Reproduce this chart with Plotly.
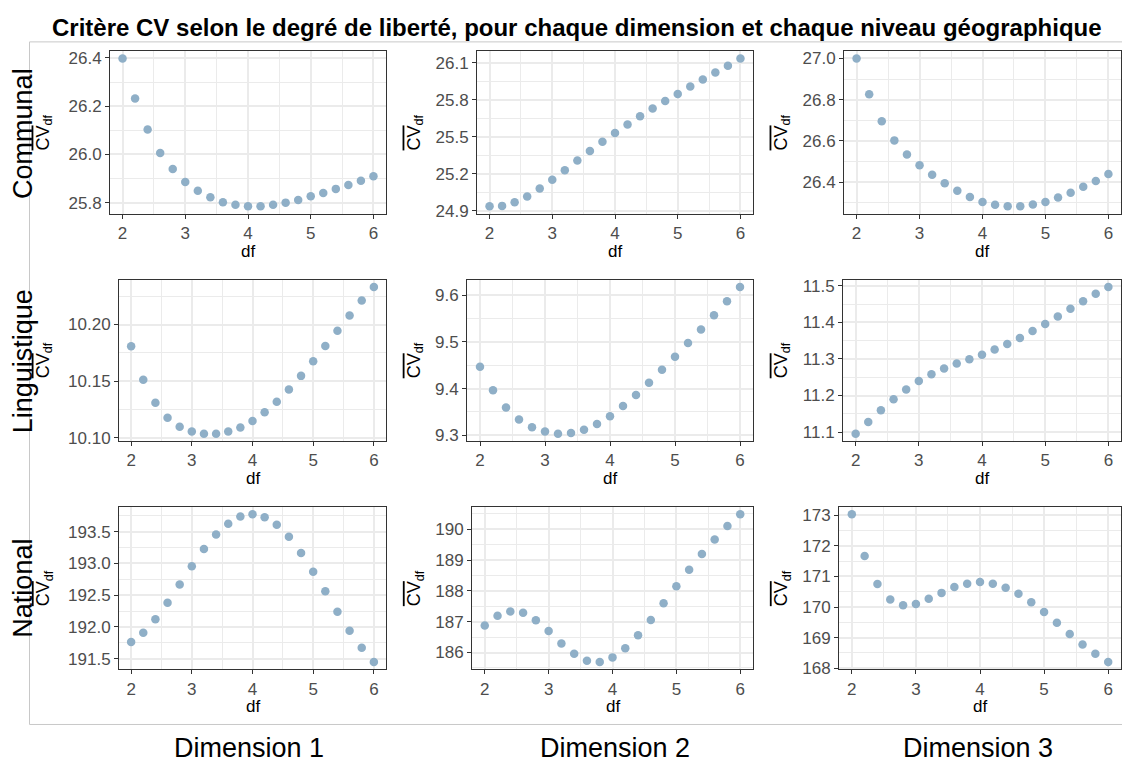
import plotly.graph_objects as go

# Degrees of freedom evaluated
df_values = [2.0, 2.2, 2.4, 2.6, 2.8, 3.0, 3.2, 3.4, 3.6, 3.8, 4.0,
             4.2, 4.4, 4.6, 4.8, 5.0, 5.2, 5.4, 5.6, 5.8, 6.0]

row_labels = ["Communal", "Linguistique", "National"]
col_labels = ["Dimension 1", "Dimension 2", "Dimension 3"]

# Mean CV per df, one list per (level, dimension)
cv_communal_d1 = [26.397, 26.232, 26.103, 26.006, 25.939, 25.886, 25.849, 25.822, 25.802, 25.791, 25.785,
                  25.785, 25.791, 25.800, 25.811, 25.826, 25.840, 25.857, 25.873, 25.891, 25.909]
cv_communal_d2 = [24.937, 24.940, 24.969, 25.017, 25.080, 25.152, 25.228, 25.308, 25.385, 25.459, 25.530,
                  25.599, 25.666, 25.729, 25.790, 25.848, 25.907, 25.965, 26.021, 26.076, 26.134]
cv_communal_d3 = [26.999, 26.826, 26.696, 26.603, 26.535, 26.482, 26.436, 26.395, 26.359, 26.329, 26.305,
                  26.291, 26.284, 26.284, 26.292, 26.305, 26.326, 26.349, 26.378, 26.406, 26.440]
cv_linguistique_d1 = [10.1808, 10.1513, 10.1310, 10.1178, 10.1097, 10.1057, 10.1037, 10.1037, 10.1057, 10.1092, 10.1149,
                      10.1226, 10.1318, 10.1427, 10.1547, 10.1676, 10.1811, 10.1946, 10.2080, 10.2212, 10.2332]
cv_linguistique_d2 = [9.4466, 9.3966, 9.3597, 9.3340, 9.3174, 9.3083, 9.3035, 9.3049, 9.3118, 9.3243, 9.3410,
                      9.3625, 9.3861, 9.4125, 9.4403, 9.4681, 9.4972, 9.5264, 9.5569, 9.5868, 9.6174]
cv_linguistique_d3 = [11.0956, 11.1276, 11.1596, 11.1898, 11.2164, 11.2396, 11.2582, 11.2742, 11.2876, 11.2991, 11.3116,
                      11.3258, 11.3409, 11.3578, 11.3764, 11.3960, 11.4164, 11.4378, 11.4582, 11.4787, 11.4973]
cv_national_d1 = [191.762, 191.910, 192.120, 192.382, 192.669, 192.956, 193.228, 193.454, 193.623, 193.736, 193.772,
                  193.726, 193.608, 193.418, 193.162, 192.869, 192.561, 192.238, 191.941, 191.674, 191.449]
cv_national_d2 = [186.878, 187.196, 187.333, 187.291, 187.048, 186.698, 186.296, 185.958, 185.735, 185.693, 185.842,
                  186.138, 186.561, 187.058, 187.598, 188.148, 188.688, 189.196, 189.672, 190.106, 190.487]
cv_national_d3 = [173.032, 171.667, 170.750, 170.249, 170.057, 170.100, 170.271, 170.463, 170.655, 170.761, 170.815,
                  170.761, 170.633, 170.431, 170.153, 169.834, 169.482, 169.120, 168.778, 168.469, 168.203]

series = [
    [cv_communal_d1, cv_communal_d2, cv_communal_d3],
    [cv_linguistique_d1, cv_linguistique_d2, cv_linguistique_d3],
    [cv_national_d1, cv_national_d2, cv_national_d3],
]

# y tick settings per panel: (tick0, dtick, format)
y_ticks = [
    [(25.8, 0.2, ".1f"), (24.9, 0.3, ".1f"), (26.4, 0.2, ".1f")],
    [(10.10, 0.05, ".2f"), (9.3, 0.1, ".1f"), (11.1, 0.1, ".1f")],
    [(191.5, 0.5, ".1f"), (186, 1, "d"), (168, 1, "d")],
]

W, H = 1122, 763

# Panel boxes in pixels: (left, right, top, bottom)
panel_px = [
    [(110, 386, 49, 214), (477, 753, 49, 214), (844, 1121, 49, 214)],
    [(119, 386, 281, 445), (467, 753, 281, 445), (843, 1121, 281, 445)],
    [(119, 386, 512, 677), (472, 753, 512, 677), (839, 1121, 512, 677)],
]
ytitle_x = [44, 415, 782]
row_label_y = [133, 364, 595]
col_label_x = [249, 615, 978]


def px_x(x):
    return x / W


def px_y(y):
    return 1 - y / H


FONT = "Liberation Sans, Arial, Helvetica, sans-serif"
POINT_COLOR = "#8FAFC7"
GRID = "#EBEBEB"

fig = go.Figure()
layout = dict(
    width=W, height=H,
    margin=dict(l=0, r=0, t=0, b=0),
    paper_bgcolor="white", plot_bgcolor="white",
    showlegend=False,
    font=dict(family=FONT, color="#4D4D4D"),
)
annotations = []

for r in range(3):
    for c in range(3):
        k = r * 3 + c + 1
        xa = "x" if k == 1 else f"x{k}"
        ya = "y" if k == 1 else f"y{k}"
        vals = series[r][c]
        fig.add_trace(go.Scatter(
            x=df_values, y=vals, mode="markers",
            marker=dict(color=POINT_COLOR, size=8.5, line=dict(width=0)),
            xaxis=xa, yaxis=ya, hoverinfo="x+y",
        ))
        left, right, top, bottom = panel_px[r][c]
        lo, hi = min(vals), max(vals)
        pad = 0.05 * (hi - lo)
        t0, dt, fmt = y_ticks[r][c]
        common = dict(
            showline=True, mirror=True, linecolor="#333333", linewidth=1,
            ticks="outside", ticklen=4, tickcolor="#333333", tickwidth=1,
            tickfont=dict(family=FONT, size=17, color="#4D4D4D"),
            showgrid=True, gridcolor=GRID, gridwidth=1.5,
            zeroline=False, tickmode="linear",
        )
        layout["xaxis" if k == 1 else f"xaxis{k}"] = dict(
            domain=[px_x(left), px_x(right)],
            anchor=ya, range=[1.8, 6.2], tick0=2, dtick=1,
            minor=dict(tick0=1.5, dtick=0.5, showgrid=True, gridcolor=GRID, gridwidth=0.8),
            **common,
        )
        layout["yaxis" if k == 1 else f"yaxis{k}"] = dict(
            domain=[px_y(bottom), px_y(top)],
            anchor=xa, range=[lo - pad, hi + pad], tick0=t0, dtick=dt,
            tickformat=fmt,
            minor=dict(tick0=t0 - dt / 2, dtick=dt / 2, showgrid=True, gridcolor=GRID, gridwidth=0.8),
            **common,
        )
        # x-axis title
        annotations.append(dict(
            text="df", xref="paper", yref="paper",
            x=px_x((left + right) / 2), y=px_y(bottom + 38),
            xanchor="center", yanchor="middle", showarrow=False,
            font=dict(family=FONT, size=17, color="black"),
        ))
        # y-axis title
        annotations.append(dict(
            text="<span style='text-decoration:overline'>CV</span><sub>df</sub>",
            xref="paper", yref="paper",
            x=px_x(ytitle_x[c]), y=px_y((top + bottom) / 2),
            xanchor="center", yanchor="middle", showarrow=False, textangle=-90,
            font=dict(family=FONT, size=18, color="black"),
        ))

for r, lab in enumerate(row_labels):
    annotations.append(dict(
        text=lab, xref="paper", yref="paper",
        x=px_x(23), y=px_y(row_label_y[r]),
        xanchor="center", yanchor="middle", showarrow=False, textangle=-90,
        font=dict(family=FONT, size=27, color="black"),
    ))

for c, lab in enumerate(col_labels):
    annotations.append(dict(
        text=lab, xref="paper", yref="paper",
        x=px_x(col_label_x[c]), y=px_y(757),
        xanchor="center", yanchor="middle", showarrow=False,
        font=dict(family=FONT, size=27, color="black"),
    ))

annotations.append(dict(
    text="<b>Critère CV selon le degré de liberté, pour chaque dimension et chaque niveau géographique</b>",
    xref="paper", yref="paper", x=px_x(577), y=px_y(25),
    xanchor="center", yanchor="middle", showarrow=False,
    font=dict(family=FONT, size=24, color="black"),
))

layout["annotations"] = annotations
layout["shapes"] = [dict(
    type="rect", xref="paper", yref="paper",
    x0=px_x(29.5), x1=px_x(1125), y0=px_y(733), y1=px_y(39.5),
    line=dict(color="#C8C8C8", width=1), fillcolor="rgba(0,0,0,0)", layer="below",
)]

fig.update_layout(**layout)
fig.write_html("out.html")
